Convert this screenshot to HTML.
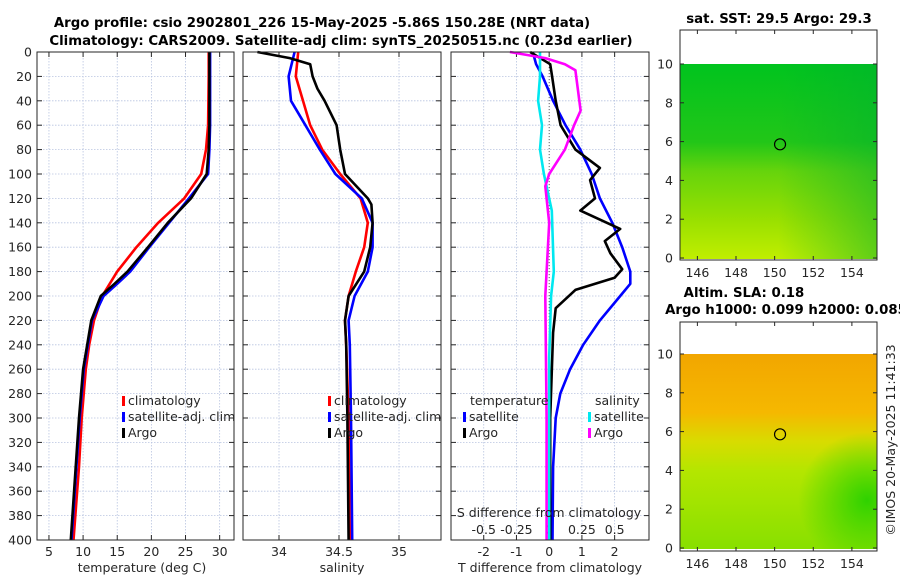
<!DOCTYPE html>
<html><head><meta charset="utf-8"><style>
body{margin:0;background:#fff}
svg{font-family:"DejaVu Sans","Liberation Sans",sans-serif}
.t{font-size:12.5px;fill:#262626}
.b{font-size:13.3px;font-weight:bold;fill:#000}
</style></head><body>
<svg id="c" width="900" height="580" viewBox="0 0 900 580">
<defs>
<linearGradient id="sstg" x1="0" y1="0" x2="0" y2="1">
<stop offset="0" stop-color="#00c41e"/><stop offset="0.4" stop-color="#22c618"/><stop offset="0.55" stop-color="#66d40c"/><stop offset="0.8" stop-color="#99e000"/><stop offset="1" stop-color="#c0ee00"/></linearGradient>
<linearGradient id="sstr" x1="0" y1="0" x2="1" y2="0">
<stop offset="0.5" stop-color="#00b030" stop-opacity="0"/><stop offset="1" stop-color="#00b030" stop-opacity="0.5"/></linearGradient>
<linearGradient id="slag" x1="0" y1="0" x2="0" y2="1">
<stop offset="0" stop-color="#f2a600"/><stop offset="0.3" stop-color="#f5b800"/><stop offset="0.45" stop-color="#d8dc00"/><stop offset="0.6" stop-color="#b4e600"/><stop offset="1" stop-color="#88e000"/></linearGradient>
<radialGradient id="slagr" cx="0.95" cy="0.75" r="0.35"><stop offset="0" stop-color="#22d000" stop-opacity="0.9"/><stop offset="1" stop-color="#22d000" stop-opacity="0"/></radialGradient>
</defs>
<g id="root"></g>
<text class="b" x="322" y="27" text-anchor="middle">Argo profile: csio 2902801_226 15-May-2025 -5.86S 150.28E (NRT data)</text>
<text class="b" x="341" y="45" text-anchor="middle">Climatology: CARS2009. Satellite-adj clim: synTS_20250515.nc (0.23d earlier)</text>
<text class="t" x="142" y="572" text-anchor="middle">temperature (deg C)</text>
<text class="t" x="342" y="572" text-anchor="middle">salinity</text>
<text class="t" x="550" y="572" text-anchor="middle">T difference from climatology</text>
<text class="t" x="549" y="517" text-anchor="middle">S difference from climatology</text>
<text class="b" x="779" y="23" text-anchor="middle">sat. SST: 29.5 Argo: 29.3</text>
<text class="b" x="744" y="297" text-anchor="middle">Altim. SLA: 0.18</text>
<text class="b" x="786" y="314" text-anchor="middle">Argo h1000: 0.099 h2000: 0.085</text>
<text class="t" x="0" y="0" transform="translate(895,440) rotate(-90)" text-anchor="middle">©IMOS 20-May-2025 11:41:33</text>
</svg>
<script>
const tClimDepth=[0,20,60,80,100,120,140,160,180,200,220,240,260,300,340,400];
const tClim=[28.4,28.4,28.3,28.0,27.3,24.8,21.0,17.8,15.0,12.8,11.6,10.9,10.4,9.8,9.4,8.6];
const tProfDepth=[0,20,60,80,100,120,140,160,180,190,200,220,260,300,350,400];
const tSat=[28.6,28.6,28.6,28.5,28.3,25.5,22.6,19.7,16.9,15.0,13.0,11.3,10.1,9.5,8.9,8.3];
const tArgo=[28.5,28.5,28.5,28.4,28.1,25.8,22.4,19.5,16.5,14.6,12.6,11.2,10.0,9.4,8.8,8.2];
const sClimDepth=[0,20,40,60,80,100,120,140,160,180,200,220,240,300,400];
const sClim=[34.16,34.14,34.2,34.26,34.36,34.51,34.68,34.74,34.71,34.64,34.58,34.55,34.56,34.58,34.59];
const sSat=[34.13,34.08,34.1,34.22,34.34,34.47,34.69,34.78,34.78,34.74,34.63,34.58,34.59,34.6,34.61];
const sArgoDepth=[0,5,10,20,30,40,60,80,100,120,125,140,160,180,200,220,240,300,400];
const sArgo=[33.82,34.09,34.26,34.28,34.32,34.38,34.48,34.51,34.55,34.74,34.77,34.78,34.76,34.71,34.58,34.55,34.56,34.57,34.58];
const dSatDepth=[0,10,20,40,60,80,100,120,140,160,180,190,200,220,240,260,280,300,340,400];
const dTSat=[-0.5,-0.4,-0.2,0.12,0.5,0.95,1.3,1.55,1.93,2.23,2.48,2.48,2.17,1.55,1.04,0.64,0.34,0.2,0.12,0.1];
const dArgoDepth=[0,10,20,40,60,80,95,105,120,130,145,155,165,178,185,195,210,230,300,400];
const dTArgo=[-0.58,0.03,0.09,0.2,0.35,0.8,1.55,1.25,1.4,0.95,2.17,1.7,1.87,2.23,2.0,0.8,0.2,0.12,0.03,0.03];
const dSDepth=[0,20,40,60,80,100,130,180,200,250,400];
const dSSat=[-0.07,-0.07,-0.085,-0.055,-0.07,-0.04,0.02,0.035,0.015,0,0];
const dSArgoDepth=[0,5,10,15,48,60,80,100,110,140,200,300,400];
const dSArgo=[-0.3,-0.03,0.12,0.2,0.24,0.19,0.12,0.0,-0.03,0,-0.03,-0.02,-0.02];
const depthTicks=[0,20,40,60,80,100,120,140,160,180,200,220,240,260,280,300,320,340,360,380,400];
const tTicks=[5,10,15,20,25,30];
const sTicks=[34,34.5,35];
const dTicks=[-2,-1,0,1,2];
const dSTickLabels=['-0.5','-0.25','0','0.25','0.5'];
const mapLatTicks=[0,2,4,6,8,10];
const mapLonTicks=[146,148,150,152,154];

const NS='http://www.w3.org/2000/svg';
const root=document.getElementById('root');
function mk(tag,at,parent){const e=document.createElementNS(NS,tag);for(const k in at)e.setAttribute(k,at[k]);(parent||root).appendChild(e);return e;}
const Y0=52,Y1=540;
const yD=d=>Y0+(d/400)*(Y1-Y0);
const panels=[
 {x0:37,x1:234,lo:3.25,hi:32.1,ticks:tTicks,name:'temperature'},
 {x0:243,x1:441,lo:33.7,hi:35.35,ticks:sTicks,name:'salinity'},
 {x0:451,x1:649,lo:-3,hi:3.05,ticks:dTicks,name:'difference'}];
panels.forEach(p=>{p.sx=v=>p.x0+(v-p.lo)/(p.hi-p.lo)*(p.x1-p.x0);});
panels.forEach((p,i)=>{
 const g=mk('g',{});
 
 
 mk('rect',{x:p.x0,y:Y0,width:p.x1-p.x0,height:Y1-Y0,fill:'#fff'},g);
 depthTicks.forEach(d=>{
  const l=mk('line',{x1:p.x0,x2:p.x1,y1:yD(d),y2:yD(d),stroke:'#b8c4e0','stroke-width':0.8,'stroke-dasharray':'1.5,1.5'},g);
  
  
  mk('line',{x1:p.x0,x2:p.x0+5,y1:yD(d),y2:yD(d),stroke:'#262626'},g);
  mk('line',{x1:p.x1,x2:p.x1-5,y1:yD(d),y2:yD(d),stroke:'#262626'},g);
  if(i===0){const t=mk('text',{x:p.x0-5,y:yD(d)+4.5,'text-anchor':'end',class:'t'},g);t.textContent=d;
   }
 });
 p.ticks.forEach((v,j)=>{
  const x=p.sx(v);
  mk('line',{x1:x,x2:x,y1:Y0,y2:Y1,stroke:'#b8c4e0','stroke-width':0.8,'stroke-dasharray':'1.5,1.5'},g);
  mk('line',{x1:x,x2:x,y1:Y1,y2:Y1-5,stroke:'#262626'},g);
  mk('line',{x1:x,x2:x,y1:Y0,y2:Y0+5,stroke:'#262626'},g);
  const t=mk('text',{x:x,y:556,'text-anchor':'middle',class:'t'},g);t.textContent=v;
  
  if(i===2){const s=mk('text',{x:x,y:534,'text-anchor':'middle',class:'t'},g);s.textContent=dSTickLabels[j];
   }
 });
 if(i===2) mk('line',{x1:p.sx(0),x2:p.sx(0),y1:Y0,y2:Y1,stroke:'#444','stroke-width':0.8,'stroke-dasharray':'1,2'},g);
 p.g=g;
});
function line(p,ds,vs,col,name,scale){
 const pts=ds.map((d,k)=>p.sx(vs[k]*(scale||1)).toFixed(1)+','+yD(d).toFixed(1)).join(' ');
 const e=mk('polyline',{points:pts,fill:'none',stroke:col,'stroke-width':2.6,'stroke-linejoin':'round'},p.g);
 
 
}
line(panels[0],tClimDepth,tClim,'#ff0000','temp-climatology-line');
line(panels[0],tProfDepth,tSat,'#0000ff','temp-satellite-line');
line(panels[0],tProfDepth,tArgo,'#000000','temp-argo-line');
line(panels[1],sClimDepth,sClim,'#ff0000','sal-climatology-line');
line(panels[1],sClimDepth,sSat,'#0000ff','sal-satellite-line');
line(panels[1],sArgoDepth,sArgo,'#000000','sal-argo-line');
line(panels[2],dSatDepth,dTSat,'#0000ff','tdiff-satellite-line');
line(panels[2],dArgoDepth,dTArgo,'#000000','tdiff-argo-line');
line(panels[2],dSDepth,dSSat,'#00e8f0','sdiff-satellite-line',4);
line(panels[2],dSArgoDepth,dSArgo,'#ff00ff','sdiff-argo-line',4);
panels.forEach(p=>mk('rect',{x:p.x0,y:Y0,width:p.x1-p.x0,height:Y1-Y0,fill:'none',stroke:'#262626','stroke-width':1},p.g));
function legend(x,y,col,label){
 const g=mk('g',{});
 
 
 if(col) mk('rect',{x:x,y:y-9,width:3,height:10,fill:col},g);
 const t=mk('text',{x:x+(col?6:0),y:y,class:'t',fill:'#000'},g);t.textContent=label;
}
[[122,'#ff0000','climatology'],[122,'#0000ff','satellite-adj. clim'],[122,'#000','Argo']].forEach((r,k)=>legend(r[0],405+k*16,r[1],r[2]));
[[328,'#ff0000','climatology'],[328,'#0000ff','satellite-adj. clim'],[328,'#000','Argo']].forEach((r,k)=>legend(r[0],405+k*16,r[1],r[2]));
legend(470,405,null,'temperature');legend(595,405,null,'salinity');
legend(463,421,'#0000ff','satellite');legend(463,437,'#000','Argo');
legend(588,421,'#00e8f0','satellite');legend(588,437,'#ff00ff','Argo');

const maps=[{y0:30,y1:260,top:64,bot:258,fill:'sstg',over:'sstr',name:'sst-map'},{y0:322,y1:551,top:354,bot:548,fill:'slag',over:'slagr',name:'sla-map'}];
const MX0=680,MX1=877,LON0=145.1,LON1=155.3;
const mx=v=>MX0+(v-LON0)/(LON1-LON0)*(MX1-MX0);
maps.forEach(m=>{
 const g=mk('g',{});
 
 
 const my=v=>m.bot-(v/10)*(m.bot-m.top);
 mk('rect',{x:MX0,y:m.y0,width:MX1-MX0,height:m.y1-m.y0,fill:'#fff'},g);
 mk('rect',{x:MX0,y:my(10),width:MX1-MX0,height:my(0)-my(10)+1,fill:'url(#'+m.fill+')'},g);
 mk('rect',{x:MX0,y:my(10),width:MX1-MX0,height:my(0)-my(10)+1,fill:'url(#'+m.over+')'},g);
 const c=mk('circle',{cx:mx(150.28),cy:my(5.86),r:5.5,fill:'none',stroke:'#000','stroke-width':1.2},g);
 
 
 mk('rect',{x:MX0,y:m.y0,width:MX1-MX0,height:m.y1-m.y0,fill:'none',stroke:'#262626'},g);
 mapLatTicks.forEach(v=>{
  mk('line',{x1:MX0,x2:MX0+4,y1:my(v),y2:my(v),stroke:'#262626'},g);
  mk('line',{x1:MX1,x2:MX1-4,y1:my(v),y2:my(v),stroke:'#262626'},g);
  const t=mk('text',{x:MX0-7,y:my(v)+4.5,'text-anchor':'end',class:'t'},g);t.textContent=v;
 });
 mapLonTicks.forEach(v=>{
  mk('line',{x1:mx(v),x2:mx(v),y1:m.y1,y2:m.y1-4,stroke:'#262626'},g);
  mk('line',{x1:mx(v),x2:mx(v),y1:m.y0,y2:m.y0+4,stroke:'#262626'},g);
  const t=mk('text',{x:mx(v),y:m.y1+17,'text-anchor':'middle',class:'t'},g);t.textContent=v;
 });
});
</script>
</body></html>
